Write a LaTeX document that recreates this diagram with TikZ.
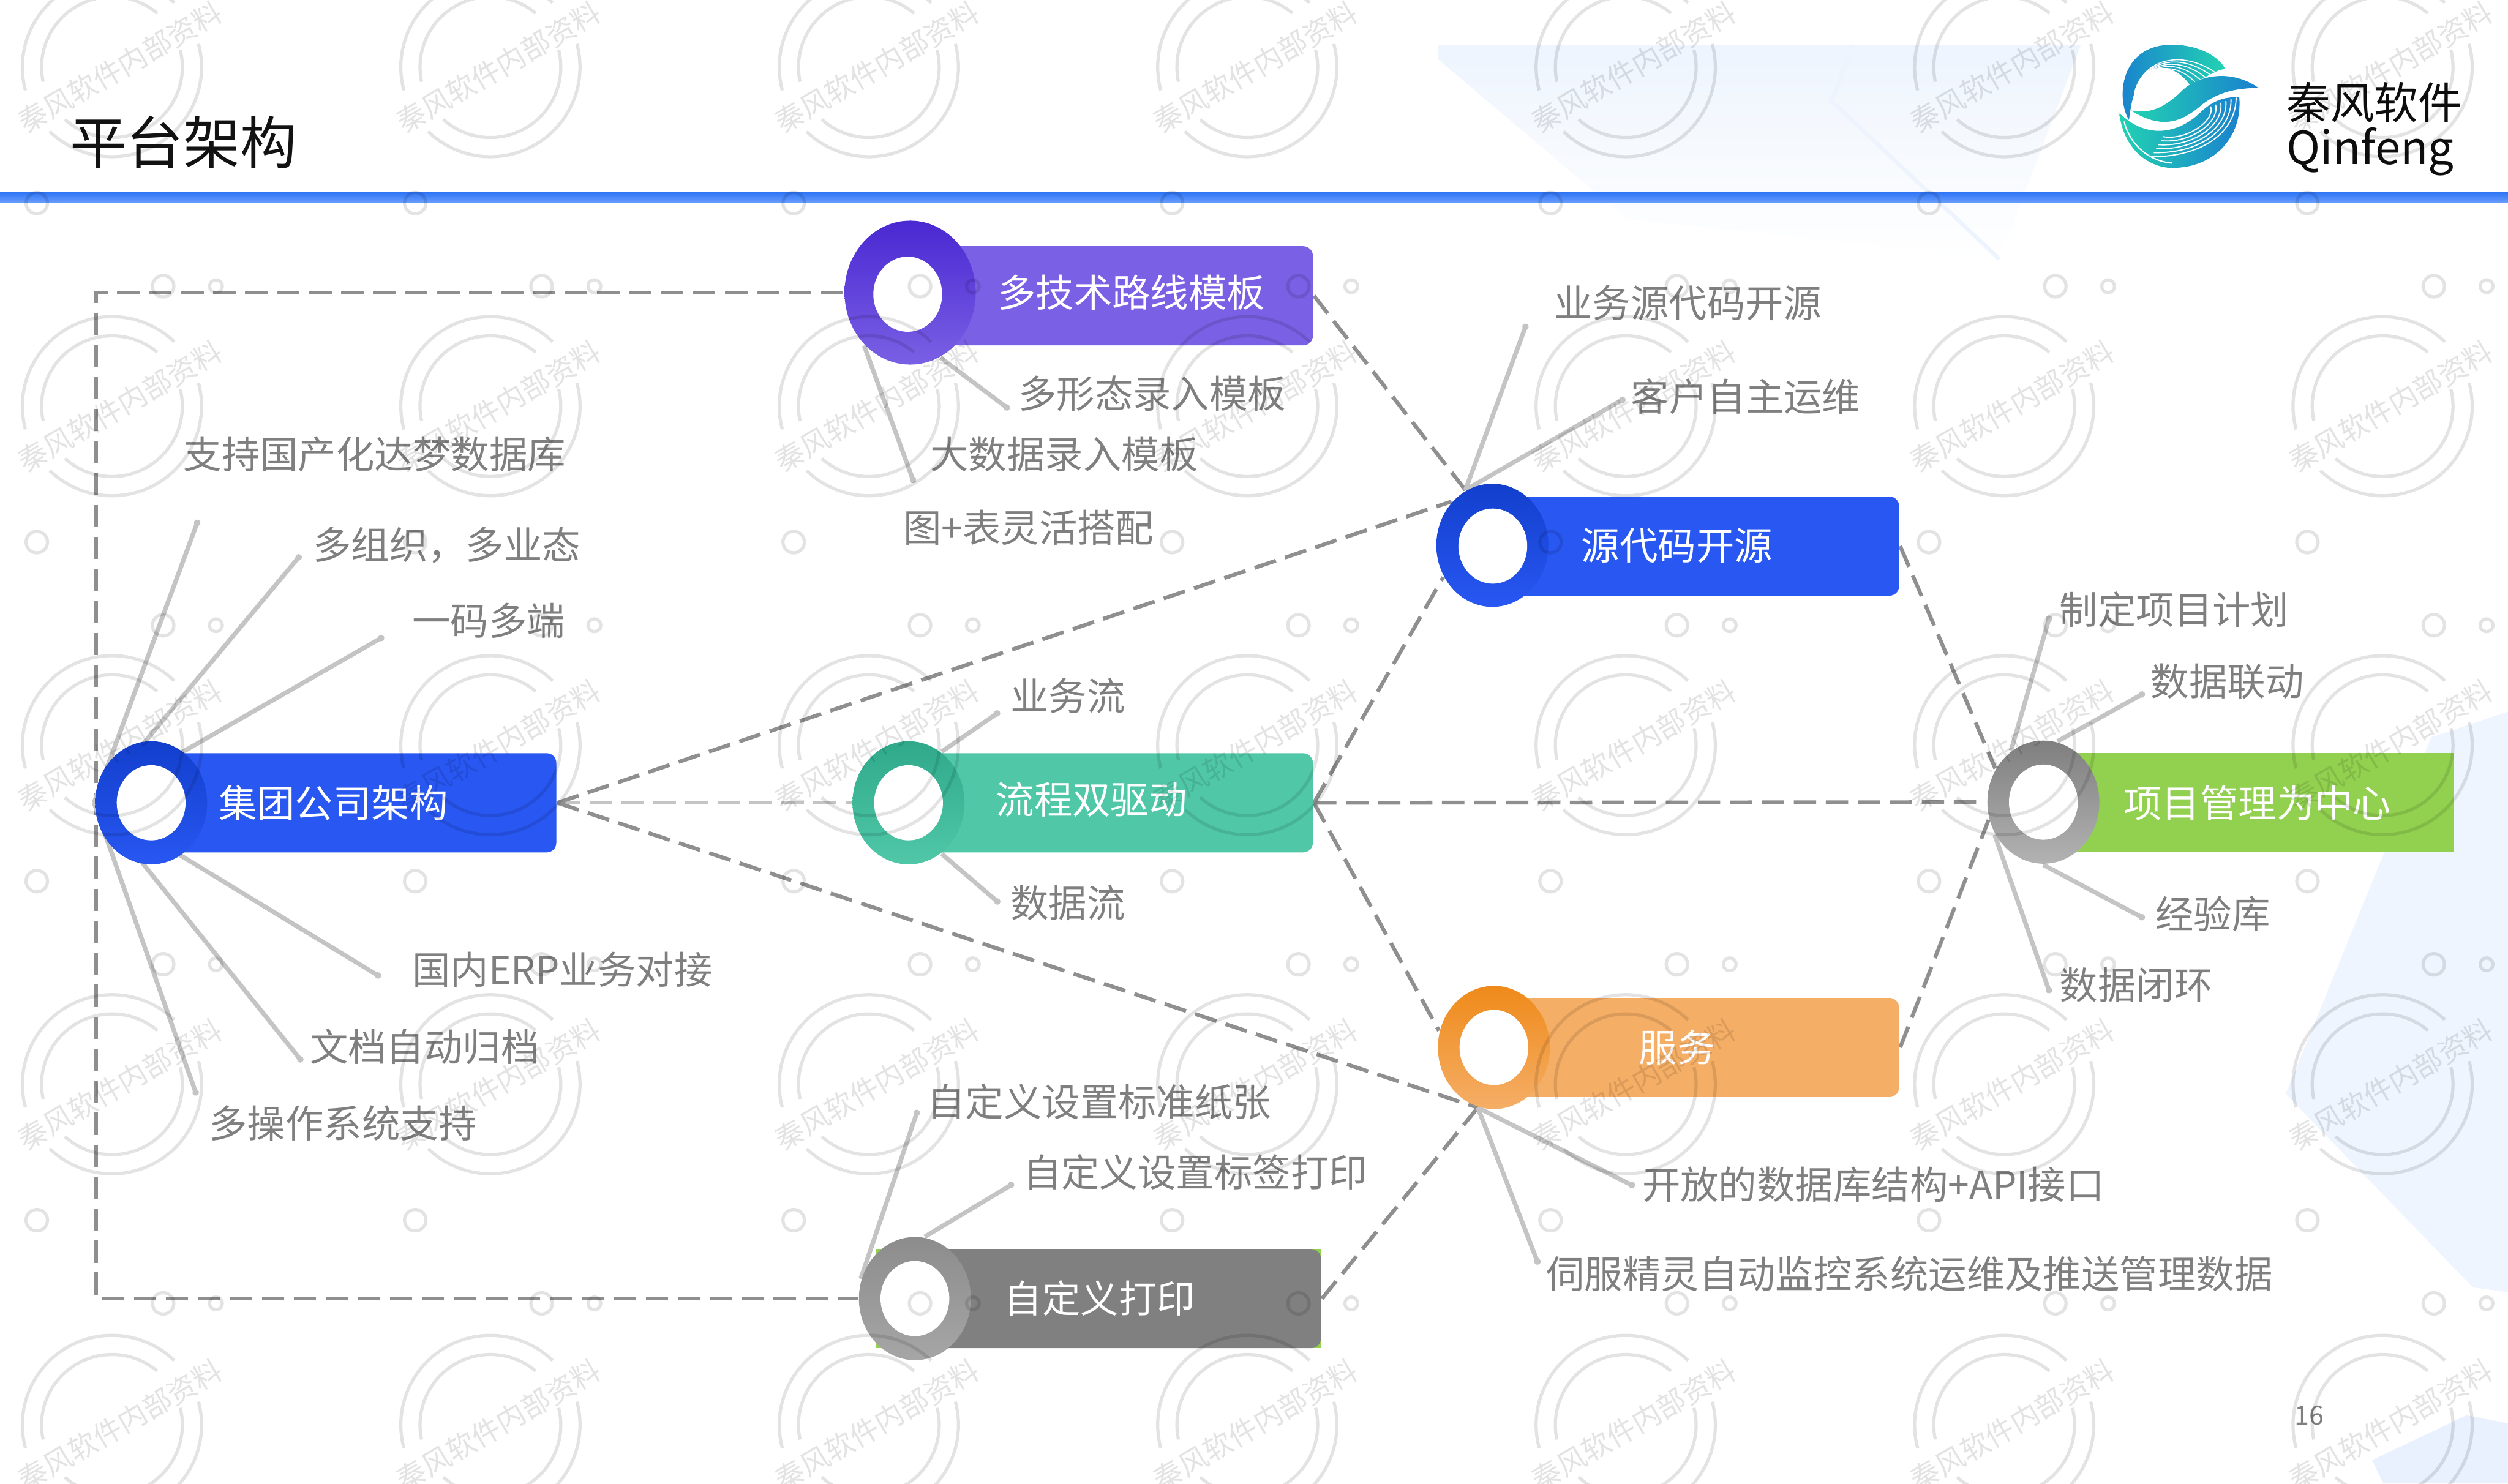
\documentclass[tikz,border=0pt]{standalone}
\usepackage{fontspec}
\setmainfont{Noto Sans CJK SC}
\usetikzlibrary{shapes.geometric}
\usetikzlibrary{arrows.meta}
\usetikzlibrary{backgrounds}
\definecolor{itemgrey}{HTML}{7F7F7F}
\definecolor{dashgrey}{HTML}{8F8F8F}
\definecolor{thingrey}{HTML}{C4C4C4}
\definecolor{decorblue}{HTML}{E8F1FD}
\definecolor{bandtop}{HTML}{2F75F5}
\definecolor{bandlow}{HTML}{6A9FFF}
\definecolor{logoblue}{HTML}{1A80CF}
\definecolor{logoteal}{HTML}{22D2B2}
\definecolor{groupblue}{HTML}{2857F2}
\definecolor{darkblue}{HTML}{123FCC}
\definecolor{techpurple}{HTML}{7A60E4}
\definecolor{darkpurple}{HTML}{4A28D2}
\definecolor{flowgreen}{HTML}{50C8A8}
\definecolor{darkgreen}{HTML}{2FA98A}
\definecolor{servorange}{HTML}{F5AE66}
\definecolor{darkorange}{HTML}{EF8A1A}
\definecolor{projgreen}{HTML}{92D14F}
\definecolor{printgrey}{HTML}{808080}
\tikzstyle{item}=[anchor=west,inner sep=0pt,xshift=-.1mm,text=itemgrey,font=\fontsize{6.8}{8}\selectfont]
\tikzstyle{boxtext}=[anchor=west,inner sep=0pt,xshift=-.1mm,text=white,font=\fontsize{6.8}{8}\selectfont]
\tikzstyle{box}=[rectangle,anchor=east,rounded corners=0.6mm,inner sep=0pt,minimum height=6.2mm]
\tikzstyle{ring}=[ellipse,inner sep=0pt,minimum width=7mm,minimum height=7.7mm]
\tikzstyle{hole}=[ellipse,fill=white,inner sep=0pt,minimum width=4.3mm,minimum height=4.7mm]
\tikzstyle{dashlink}=[draw=dashgrey,line width=.24mm,dash pattern=on 1.4mm off .6mm]
\tikzstyle{thinlink}=[draw=thingrey,line width=.28mm,-{Circle[length=.4mm]}]
\tikzstyle{markline}=[black,opacity=.11,line width=.2mm]
\tikzstyle{markword}=[black,opacity=.11,inner sep=0pt,rotate=30,font=\fontsize{5.1}{6}\selectfont]
\begin{document}
\begin{tikzpicture}[x=0.1mm,y=-0.1mm]
    \useasboundingbox (0,0) rectangle (1568,927.6);
    \node[anchor=west,inner sep=0pt,text=black!93,font=\fontsize{10.1}{12}\selectfont] at (43,89) (title) {平台架构};
    \shade[top color=bandtop,bottom color=bandlow] (0,120.3) rectangle (1568,127);

    \node[box,fill=groupblue,minimum width=25.4mm] at (348.5,502) (group) {};
    \node[ring,top color=darkblue,bottom color=groupblue] at (94.5,502) (groupring) {};
    \node[hole] at (94.5,502) (grouphole) {};
    \node[boxtext] at (137,502) (grouptext) {集团公司架构};

    \node[box,fill=techpurple,minimum width=25.3mm] at (821.5,185) (tech) {};
    \node[ring,top color=darkpurple,bottom color=techpurple,minimum width=8.2mm,minimum height=9mm] at (569,183) (techring) {};
    \node[hole] at (567.5,184) (techhole) {};
    \node[boxtext] at (624,183) (techtext) {多技术路线模板};

    \node[box,fill=flowgreen,minimum width=25.3mm] at (821.5,502) (flow) {};
    \node[ring,top color=darkgreen,bottom color=flowgreen] at (568,502) (flowring) {};
    \node[hole] at (568,502) (flowhole) {};
    \node[boxtext] at (623,500) (flowtext) {流程双驱动};

    \node[box,fill=groupblue,minimum width=25.4mm] at (1188,341.5) (source) {};
    \node[ring,top color=darkblue,bottom color=groupblue] at (933,341) (sourcering) {};
    \node[hole] at (933.3,341.5) (sourcehole) {};
    \node[boxtext] at (989,341) (sourcetext) {源代码开源};

    \node[box,fill=servorange,minimum width=25.4mm] at (1188,655) (service) {};
    \node[ring,top color=darkorange,bottom color=servorange] at (934,655) (servicering) {};
    \node[hole] at (934,655) (servicehole) {};
    \node[boxtext] at (1025,655) (servicetext) {服务};

    \node[box,fill=projgreen,rounded corners=0pt,minimum width=25.7mm] at (1534.5,502) (project) {};
    \node[ring,top color=itemgrey,bottom color=black!30] at (1277.5,501.6) (projectring) {};
    \node[hole] at (1277.5,501.6) (projecthole) {};
    \node[boxtext] at (1328,502) (projecttext) {项目管理为中心};

    \node[box,fill=projgreen,rounded corners=0pt,minimum width=27.8mm] at (826.5,812) (printback) {};
    \node[box,fill=printgrey,minimum width=27.8mm] at (826.5,812) (print) {};
    \node[ring,top color=black!45,bottom color=black!35] at (572,812) (printring) {};
    \node[hole] at (572,812) (printhole) {};
    \node[boxtext] at (628,812) (printtext) {自定义打印};

    \node[item] at (115,284) (dameng) {支持国产化达梦数据库};
    \node[item] at (196,341) (orgs) {多组织，多业态};
    \node[item] at (258,388) (onecode) {一码多端};
    \node[item] at (258,606.5) (erp) {国内ERP业务对接};
    \node[item] at (194,654.5) (archive) {文档自动归档};
    \node[item] at (131,702.5) (multios) {多操作系统支持};
    \node[item] at (637,246) (polymorph) {多形态录入模板};
    \node[item] at (582,284) (bigdata) {大数据录入模板};
    \node[item] at (565,330) (chart) {图+表灵活搭配};
    \node[item] at (632,435) (bizflow) {业务流};
    \node[item] at (632,564.5) (dataflow) {数据流};
    \node[item] at (972,189.5) (opensrc) {业务源代码开源};
    \node[item] at (1020,248) (selfops) {客户自主运维};
    \node[item] at (1288,381) (plan) {制定项目计划};
    \node[item] at (1345,426) (linkage) {数据联动};
    \node[item] at (1348,571.5) (experience) {经验库};
    \node[item] at (1288,616) (closedloop) {数据闭环};
    \node[item] at (580,689) (paper) {自定义设置标准纸张};
    \node[item] at (640,733) (labelprint) {自定义设置标签打印};
    \node[item] at (1027,740.5) (openapi) {开放的数据库结构+API接口};
    \node[item] at (967,796.5) (servo) {伺服精灵自动监控系统运维及推送管理数据};
    \node[anchor=west,inner sep=0pt,text=itemgrey,font=\fontsize{4.7}{6}\selectfont] at (1434,885) (pagenum) {16};

    \node[anchor=west,inner sep=0pt,text=black!95,font=\fontsize{7.8}{9}\selectfont] at (1429,64) (logocn) {秦风软件};
    \node[anchor=west,inner sep=0pt,text=black!95,font=\fontsize{8.1}{10}\selectfont] at (1429,95) (logoen) {Qinfeng};

    \shade[left color=logoblue,right color=logoteal] (1331,75) .. controls (1323,62) and (1325,28) .. (1358,28) .. controls (1375,28) and (1388,36) .. (1391,43) -- (1387,44) -- (1369,53) .. controls (1360,40) and (1344,38) .. (1337,52) .. controls (1333,60) and (1332,68) .. (1331,75) -- cycle;
    \foreach \k in {1,...,5}
      \draw[white,line width=.06mm] (1334+0.3*\k,60-\k) .. controls (1338+\k,36+\k) and (1365-\k,28+2*\k) .. (1390-3.4*\k,45+1.4*\k);
    \shade[left color=logoteal,right color=logoblue] (1325,71) .. controls (1328,95) and (1345,105) .. (1358,105) .. controls (1385,105) and (1402,85) .. (1400,61) .. controls (1390,60) and (1382,64) .. (1375,71) .. controls (1362,83) and (1345,86) .. (1330,75) -- cycle;
    \foreach \k in {0,...,5}
      \draw[white,line width=.07mm] (1398-3.2*\k,61+1.1*\k) .. controls (1398-2.5*\k,82-1.5*\k) and (1378-2*\k,98-2*\k) .. (1345+1.5*\k,98-2.5*\k);
    \draw[white,line width=.08mm] (1328,76) .. controls (1332,92) and (1345,101) .. (1358,102);
    \shade[left color=logoteal,right color=logoblue] (1332,69) .. controls (1345,72) and (1355,66) .. (1365,56) .. controls (1375,47) and (1395,43) .. (1412,55) .. controls (1403,55) and (1388,56) .. (1376,66) .. controls (1362,78) and (1350,80) .. (1332,69) -- cycle;

    \coordinate (cornertop) at (60,183);
    \coordinate (cornerlow) at (60,812);
    \coordinate (damengend) at (124,325);
    \coordinate (orgsend) at (188,347);
    \coordinate (onecodeend) at (240,398);
    \coordinate (erpend) at (238,611);
    \coordinate (archiveend) at (189,664);
    \coordinate (multiosend) at (123,685);
    \coordinate (polymorphend) at (631,256);
    \coordinate (bigdataend) at (571.5,302);
    \coordinate (bizflowend) at (625,445);
    \coordinate (dataflowend) at (625,565);
    \coordinate (opensrcend) at (954.4,202.5);
    \coordinate (selfopsend) at (1016,249);
    \coordinate (planend) at (1281.6,385);
    \coordinate (linkageend) at (1340.8,433.3);
    \coordinate (experienceend) at (1340.8,574.5);
    \coordinate (closedloopend) at (1281.6,621);
    \coordinate (paperend) at (573.8,694);
    \coordinate (labelprintend) at (633.8,740);
    \coordinate (openapiend) at (1022,742);
    \coordinate (servoend) at (961.9,790.7);

    \begin{scope}[on background layer]
      \shade[top color=decorblue!75,bottom color=white] (899,28) -- (1301,28) -- (1250,162) -- (1017,137) -- (899,37) -- cycle;
      \draw[decorblue!80,line width=.25mm] (1159,28) -- (1145,63) -- (1250,162);
      \fill[decorblue!70] (1429,684) -- (1520,461) -- (1568,445) -- (1568,808) -- (1546,805) -- cycle;
      \fill[decorblue] (1483,913) -- (1542,885) -- (1568,890) -- (1568,927.6) -- (1490,927.6) -- cycle;

      \draw[dashlink] (techring.west) -- (cornertop) -- (cornerlow) -- (printring.west);
      \draw[dashlink,draw=thingrey] (group.east) -- (flowring.west);
      \draw[dashlink] (group.east) -- (sourcering.133);
      \draw[dashlink] (group.east) -- (servicering.255);
      \draw[dashlink] (tech.east) -- (sourcering.116);
      \draw[dashlink] (flow.east) -- (sourcering.213);
      \draw[dashlink] (flow.east) -- (servicering.163);
      \draw[dashlink] (flow.east) -- (projectring.west);
      \draw[dashlink] (source.east) -- (projectring.145);
      \draw[dashlink] (service.east) -- (projectring.198);
      \draw[dashlink] (print.east) -- (servicering.255);

      \draw[thinlink] (groupring.west) -- (damengend);
      \draw[thinlink] (groupring.west) -- (orgsend);
      \draw[thinlink] (groupring.west) -- (onecodeend);
      \draw[thinlink] (groupring.west) -- (erpend);
      \draw[thinlink] (groupring.west) -- (archiveend);
      \draw[thinlink] (groupring.west) -- (multiosend);
      \draw[thinlink] (techring.295) -- (polymorphend);
      \draw[thinlink] (techring.229) -- (bigdataend);
      \draw[thinlink] (flowring.57) -- (bizflowend);
      \draw[thinlink] (flowring.-57) -- (dataflowend);
      \draw[thinlink] (sourcering.116) -- (opensrcend);
      \draw[thinlink] (sourcering.116) -- (selfopsend);
      \draw[thinlink] (projectring.122) -- (planend);
      \draw[thinlink] (projectring.77) -- (linkageend);
      \draw[thinlink] (projectring.270) -- (experienceend);
      \draw[thinlink] (projectring.214) -- (closedloopend);
      \draw[thinlink] (printring.160) -- (paperend);
      \draw[thinlink] (printring.81) -- (labelprintend);
      \draw[thinlink] (servicering.255) -- (openapiend);
      \draw[thinlink] (servicering.255) -- (servoend);
    \end{scope}

    \begin{scope}
      \clip (0,0) rectangle (1568,927.6);
      \foreach \col/\x in {0/70,1/306.6,2/543.2,3/779.8,4/1016.4,5/1253,6/1489.6}
        \foreach \row/\y in {0/42,1/254,2/466,3/678,4/891} {
          \draw[markline] (\x,\y) ++(195:5.6mm) arc[start angle=195,end angle=46,radius=5.6mm];
          \draw[markline] (\x,\y) ++(15:5.6mm) arc[start angle=15,end angle=-134,radius=5.6mm];
          \draw[markline] (\x,\y) ++(192:4.4mm) arc[start angle=192,end angle=50,radius=4.4mm];
          \draw[markline] (\x,\y) ++(14:4.4mm) arc[start angle=14,end angle=-132,radius=4.4mm];
          \node[markword] at (\x+5,\y) (mark\col\row) {秦风软件内部资料};
          \draw[markline] (\x-47,\y+85) circle[radius=.67mm];
          \draw[markline] (\x+32,\y+137) circle[radius=.67mm];
          \draw[markline] (\x+65,\y+137) circle[radius=.4mm];
        }
    \end{scope}
  \end{tikzpicture}
\end{document}
